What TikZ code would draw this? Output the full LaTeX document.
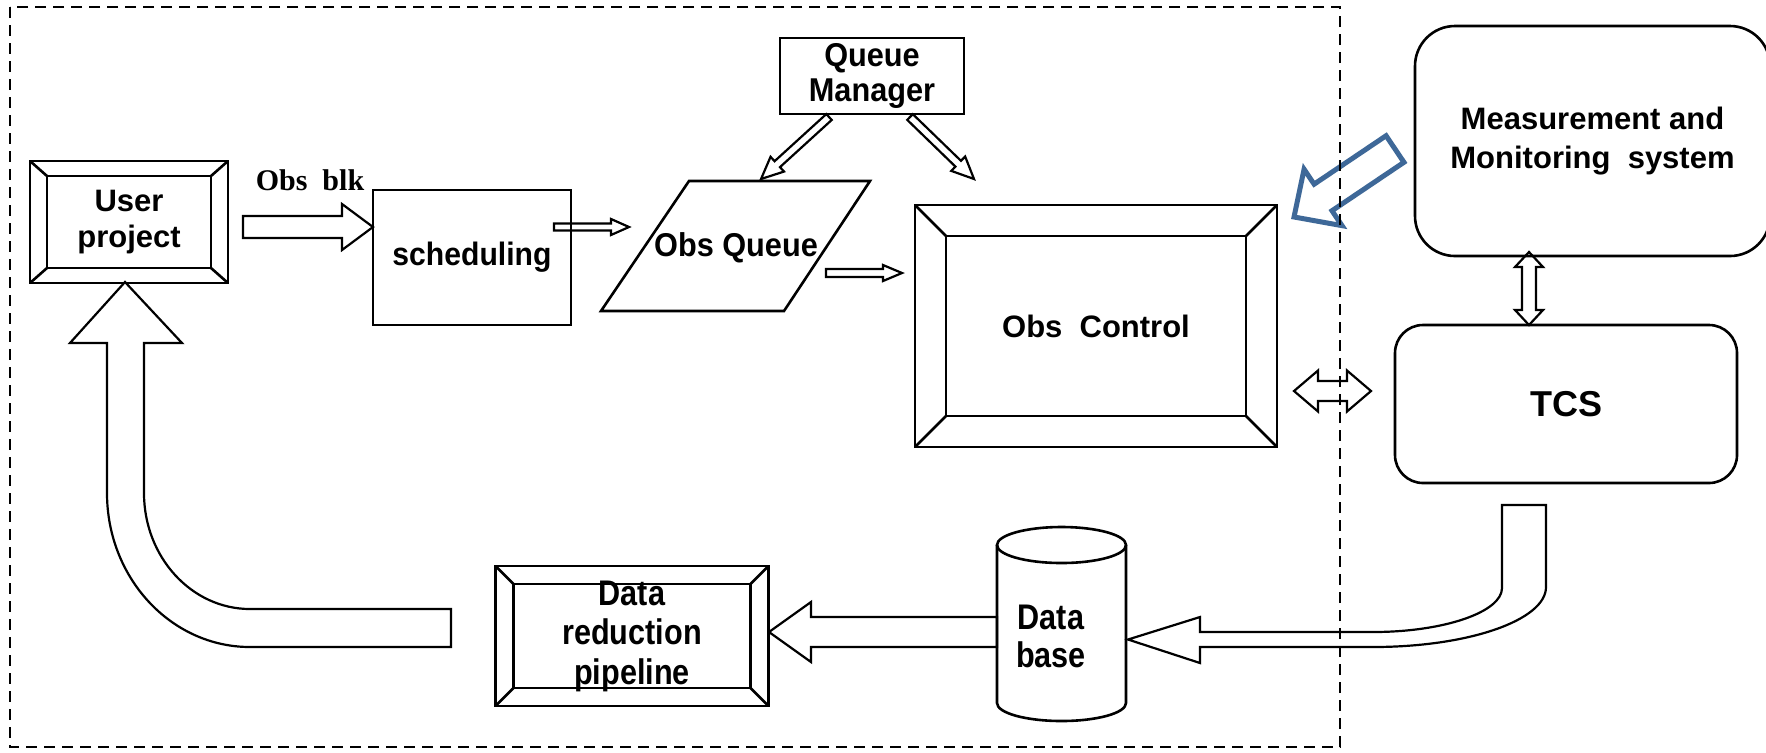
\documentclass[tikz,border=0pt]{standalone}
\usepackage{fontspec}
\setmainfont{Liberation Sans}
\newfontfamily\timesfont{Liberation Serif}
\newfontfamily\narrowfont[FakeStretch=0.86]{Liberation Sans}
\newfontfamily\semifont[FakeStretch=0.93]{Liberation Sans}
\usetikzlibrary{calc}
\definecolor{arrowblue}{RGB}{62,104,152}
\tikzset{
  boxline/.style={line width=1.3pt, draw=black},
  plainbox/.style={boxline, rectangle, outer sep=0pt, inner sep=0pt, align=center, font=\bfseries\fontsize{15.5}{18}\selectfont},
  txt/.style={inner sep=0pt, align=center, font=\bfseries\fontsize{15.5}{18}\selectfont},
  blockarrow/.style={line width=1.1pt, draw=black, fill=white, line join=miter},
  frame/.style={line width=1pt, dash pattern=on 5.5pt off 3.5pt},
}
\newdimen\baxa \newdimen\baya \newdimen\baxb \newdimen\bayb
\newcommand\bageom[2]{%
  \pgfextractx{\baxa}{\pgfpointanchor{#1}{center}}%
  \pgfextracty{\baya}{\pgfpointanchor{#1}{center}}%
  \pgfextractx{\baxb}{\pgfpointanchor{#2}{center}}%
  \pgfextracty{\bayb}{\pgfpointanchor{#2}{center}}%
  \pgfmathsetmacro\baang{atan2(\bayb-\baya,\baxb-\baxa)}%
  \pgfmathsetmacro\balen{2*veclen(\baxb-\baxa,\bayb-\baya)}}
% single block arrow: [style]{from}{to}{shaft half width}{head half width}{head length}
\newcommand\blockarrow[6][]{%
  \bageom{#2}{#3}%
  \pgfmathsetmacro\babase{\balen-#6}%
  \begin{scope}[shift={(#2)}, rotate=\baang]
    \draw[blockarrow,#1] (0,-#4) -- (\babase,-#4) -- (\babase,-#5) -- (\balen,0) -- (\babase,#5) -- (\babase,#4) -- (0,#4) -- cycle;
  \end{scope}}
% double block arrow
\newcommand\dblarrow[6][]{%
  \bageom{#2}{#3}%
  \pgfmathsetmacro\babase{\balen-#6}%
  \begin{scope}[shift={(#2)}, rotate=\baang]
    \draw[blockarrow,#1] (0,0) -- (#6,-#5) -- (#6,-#4) -- (\babase,-#4) -- (\babase,-#5) -- (\balen,0) -- (\babase,#5) -- (\babase,#4) -- (#6,#4) -- (#6,#5) -- cycle;
  \end{scope}}
% bevel decoration of a box node: {node}{bevel x}{bevel y}
\newcommand\bevel[3]{%
  \draw[boxline] ($(#1.north west)+(#2,#3)$) rectangle ($(#1.south east)+(-#2,-#3)$);
  \draw[boxline] (#1.north west) -- +(#2,#3);
  \draw[boxline] (#1.north east) -- +(-#2,#3);
  \draw[boxline] (#1.south west) -- +(#2,-#3);
  \draw[boxline] (#1.south east) -- +(-#2,-#3);}
\begin{document}
\begin{tikzpicture}[x=0.5pt, y=-0.5pt]
\useasboundingbox (0,0) rectangle (1766,752);
\fill[white] (0,0) rectangle (1766,752);
\clip (0,0) rectangle (1766,752);

% arrow end points
\coordinate (obA) at (243,227);  \coordinate (obB) at (373,227);
\coordinate (sqA) at (554,227);  \coordinate (sqB) at (629,227);
\coordinate (ocA) at (826,273);  \coordinate (ocB) at (902,273);
\coordinate (qA) at (829,117);   \coordinate (qB) at (761,179);
\coordinate (qC) at (910,117);   \coordinate (qD) at (974,179);
\coordinate (dA) at (997,632);   \coordinate (dB) at (769,632);
\coordinate (bA) at (1395,149);  \coordinate (bB) at (1294,217);
\coordinate (hA) at (1294,391);  \coordinate (hB) at (1371,391);
\coordinate (vA) at (1529,252);  \coordinate (vB) at (1529,325);

% block arrows
\blockarrow{obA}{obB}{11}{23}{31}
\blockarrow{sqA}{sqB}{3.5}{8}{18}
\blockarrow{ocA}{ocB}{4}{8}{19}
\blockarrow{qA}{qB}{4}{10}{22}
\blockarrow{qC}{qD}{4}{10}{22}
\blockarrow{dA}{dB}{15}{30}{42}
\blockarrow[draw=arrowblue, line width=2.5pt]{bA}{bB}{16}{34}{35}
\dblarrow{hA}{hB}{10}{20.5}{24}
\dblarrow{vA}{vB}{7}{14}{15}

% bent arrow from pipeline back to user project
\draw[blockarrow] (125,282) -- (182,343) -- (144,343) -- (144,493)
  .. controls (144,557) and (191.5,609) .. (250,609) -- (451,609) -- (451,647) -- (250,647)
  .. controls (171,647) and (107,578) .. (107,493) -- (107,343) -- (70,343) -- cycle;

% bent arrow from TCS to data base
\draw[blockarrow] (1502,505) -- (1546,505) -- (1546,587)
  .. controls (1546,620) and (1469,647) .. (1373,647) -- (1200,647) -- (1200,663)
  -- (1128,639.5) -- (1200,617) -- (1200,632) -- (1373,632)
  .. controls (1444,632) and (1502,612) .. (1502,588) -- cycle;

% boxes
\node[plainbox, minimum width=99pt, minimum height=61pt] (user) at (129,222) {User\\project};
\bevel{user}{17}{15}
\node[inner sep=0pt, font=\timesfont\bfseries\fontsize{15}{17}\selectfont] (oblk) at (310,180) {Obs\ \ blk};
\node[plainbox, minimum width=99pt, minimum height=67.5pt, font=\semifont\bfseries\fontsize{16.2}{18}\selectfont] (sched) at (472,257.5) {scheduling};
\draw[boxline] (689,181) -- (870,181) -- (784,311) -- (601,311) -- cycle;
\node[txt, font=\semifont\bfseries\fontsize{16.5}{18}\selectfont] (oq) at (736,248) {Obs Queue};
\node[plainbox, minimum width=92pt, minimum height=38pt, font=\semifont\bfseries\fontsize{16.5}{17.5}\selectfont] (qm) at (872,76) {Queue\\Manager};
\node[plainbox, minimum width=181pt, minimum height=121pt] (oc) at (1096,326) {Obs\ \ Control};
\bevel{oc}{31}{31}
\node[plainbox, rounded corners=20pt, minimum width=177.5pt, minimum height=115pt, font=\bfseries\fontsize{15.5}{19.5}\selectfont] (mm) at (1592.5,141) {Measurement and\\Monitoring\ \ system};
\node[plainbox, rounded corners=14pt, minimum width=171pt, minimum height=79pt, font=\bfseries\fontsize{18}{20}\selectfont] (tcs) at (1566,404) {TCS};
\node[plainbox, minimum width=136.5pt, minimum height=70pt, font=\narrowfont\bfseries\fontsize{17.8}{19.75}\selectfont] (drp) at (632,636) {Data\\reduction\\pipeline};
\bevel{drp}{18}{18}

% data base cylinder
\draw[boxline] (1061.5,545) ellipse [x radius=32.25pt, y radius=9pt];
\draw[boxline] (997,545) -- (997,703) .. controls (997,713) and (1025.9,721) .. (1061.5,721)
  .. controls (1097.1,721) and (1126,713) .. (1126,703) -- (1126,545);
\node[txt, font=\narrowfont\bfseries\fontsize{17.8}{19}\selectfont] (db) at (1051,636) {Data\\base};

% dashed boundary
\draw[frame] (10,7) rectangle (1340,747);
\end{tikzpicture}
\end{document}
